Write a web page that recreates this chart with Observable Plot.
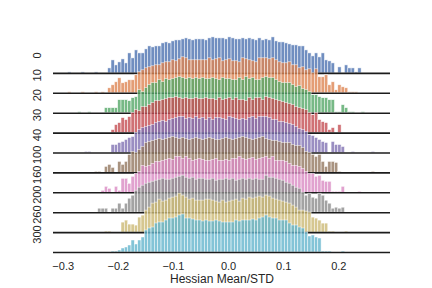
<!DOCTYPE html>
<html><head><meta charset="utf-8">
<script src="https://cdn.jsdelivr.net/npm/d3@7"></script>
<script src="https://cdn.jsdelivr.net/npm/@observablehq/plot@0.6"></script>
<style>body{margin:0;background:#fff;font-family:"Liberation Sans",Arial,sans-serif}</style>
</head><body><div id="chart"></div>
<script>
// Row labels (top to bottom) and seaborn "deep" palette
const rowLabels = ["0","10","20","30","40","100","160","200","260","300"];
const palette = ["#4c72b0","#dd8452","#55a868","#c44e52","#8172b3","#937860","#da8bc3","#8c8c8c","#ccb974","#64b5cd"];
const xTicks = [-0.3,-0.2,-0.1,0.0,0.1,0.2];
const xLabel = "Hessian Mean/STD";
const xDomain = [-0.3176, 0.2938];
// histogram bins
const binStart = -0.291, binWidth = 0.00605;
// first bin index of each row's counts
const starts = [0,0,3,13,5,8,10,9,11,13];
// counts per bin
const h0 = [1,0,0,0,1,0,0,0,1,0,0,0,5,13,8,11,14,10,20,15,23,20,20,24,27,26,27,27,30,31,30,32,33,33,34,35,34,33,34,34,34,33,35,36,35,35,35,34,36,35,34,34,35,34,35,34,33,35,33,34,33,36,32,31,31,30,29,28,28,27,27,23,20,17,20,16,20,13,12,10,0,6,0,8,5,5,1,5];
const h10 = [1,0,0,0,1,0,0,0,1,0,1,0,5,8,11,15,10,11,13,13,18,21,23,25,26,27,28,28,30,31,31,33,32,34,36,35,33,33,33,33,33,33,35,33,34,35,32,33,34,32,32,31,35,34,33,32,31,35,35,35,34,35,33,31,30,30,31,28,28,25,26,23,24,20,24,16,16,18,8,11,3,8,6,5,1,1,1];
const h20 = [1,0,0,1,0,0,0,0,5,5,5,5,13,13,13,12,15,16,23,21,25,28,30,30,33,31,34,33,34,35,36,35,34,35,34,35,34,35,34,34,35,34,33,35,34,34,33,33,35,33,36,34,35,33,33,35,36,35,35,33,31,30,30,30,28,26,27,24,23,21,18,18,16,15,15,13,13,1,1,8,5,1,1,0,0,1];
const h30 = [3,8,10,15,13,16,20,23,22,26,26,28,30,32,32,33,34,35,35,36,35,34,35,34,34,35,34,34,35,34,34,33,35,33,34,35,33,35,33,33,32,35,33,35,35,33,36,35,34,33,32,31,30,29,28,26,25,24,23,20,18,20,13,11,10,3,5,0,8];
const h40 = [1,1,0,0,0,0,0,0,8,8,10,11,13,15,16,20,23,25,26,27,28,30,31,32,31,33,34,35,36,36,34,35,34,36,34,35,33,35,33,35,35,34,33,36,35,34,33,34,33,35,36,34,36,36,36,35,33,33,31,31,30,29,28,26,24,23,21,18,17,15,13,11,10,0,11,8,8,6,0,0,1,0,0,0,0,0,1];
const h100 = [1,1,0,6,8,5,0,11,8,11,18,21,20,23,26,30,31,32,33,34,33,34,35,36,35,34,35,34,33,34,35,34,33,34,35,34,33,33,34,35,34,33,34,35,36,35,34,33,34,35,36,34,33,32,32,31,30,30,30,28,27,27,25,21,20,18,16,18,11,6,11,11,10,1,0,0,0,0,0,0,0,0,0,1];
const h160 = [2,6,4,0,6,2,14,14,9,16,19,21,27,26,27,29,31,31,32,33,34,33,36,36,34,36,34,32,33,34,33,32,32,33,34,32,32,33,32,34,34,36,34,33,34,35,33,34,35,36,34,36,32,32,32,31,29,27,27,26,24,21,19,19,16,17,12,11,11,1,1,1,6,0,0,0,0,1];
const h200 = [4,4,4,0,4,4,9,4,9,14,17,22,25,27,29,30,31,32,33,34,33,33,34,35,36,37,35,34,35,33,34,34,33,33,34,32,33,33,34,33,34,32,33,34,33,34,33,34,33,33,37,35,35,34,33,32,30,29,27,25,24,20,17,19,15,14,19,17,12,9,4,5,4,5];
const h260 = [1,1,0,0,0,10,12,8,8,7,15,17,22,25,29,30,33,31,32,34,35,36,39,37,35,33,34,32,32,32,33,33,32,31,30,32,30,31,32,33,31,34,33,35,34,35,36,35,37,36,34,33,32,31,30,29,27,25,22,22,21,20,15,14,12,9,9,1,1,0,0,0,1];
const h300 = [1,1,2,4,5,7,12,8,12,15,22,24,25,29,30,30,32,34,34,35,37,38,34,34,33,32,32,31,32,31,31,32,31,30,30,30,30,32,31,32,32,32,33,32,34,35,37,35,34,34,32,32,32,29,27,27,25,24,20,16,17,15,14,1,1,1,0,0,0,1];
const counts = [h0,h10,h20,h30,h40,h100,h160,h200,h260,h300];
const rowStep = 19.9; // vertical offset between ridges, in count units

const marks = [];
rowLabels.forEach((lab, i) => {
  const base = (9 - i) * rowStep;
  const bars = [];
  counts[i].forEach((c, j) => {
    if (c > 0) {
      const k = starts[i] + j;
      bars.push({x1: binStart + k * binWidth, x2: binStart + (k + 1) * binWidth, y1: base, y2: base + c});
    }
  });
  marks.push(Plot.rect(bars, {x1: "x1", x2: "x2", y1: "y1", y2: "y2", fill: palette[i], fillOpacity: 0.8,
    stroke: "white", strokeOpacity: 0.8, strokeWidth: 0.6}));
  marks.push(Plot.ruleY([base], {stroke: "#1c1c1c", strokeWidth: 1.6}));
});
marks.push(Plot.text(rowLabels, {x: () => xDomain[0] - 16 / 551.2, y: (d, i) => (9 - i) * rowStep + 18,
  text: d => d, rotate: -90, fontSize: 11, fill: "#262626"}));
marks.push(Plot.axisX({ticks: xTicks, tickFormat: d3.format(".1f"), tickSize: 0, tickPadding: 10, fontSize: 11, label: null, fill: "#262626"}));
marks.push(Plot.text([xLabel], {frameAnchor: "bottom", dy: 30, text: d => d, fontSize: 12, fill: "#262626"}));

const chart = Plot.plot({
  width: 432, height: 288,
  marginLeft: 53, marginRight: 42, marginTop: 0, marginBottom: 36,
  x: {domain: xDomain},
  y: {domain: [0, 252], axis: null},
  style: {fontFamily: "'Liberation Sans', Arial, sans-serif", color: "#262626", background: "white"},
  marks
});
document.getElementById("chart").appendChild(chart);
</script>
</body></html>
